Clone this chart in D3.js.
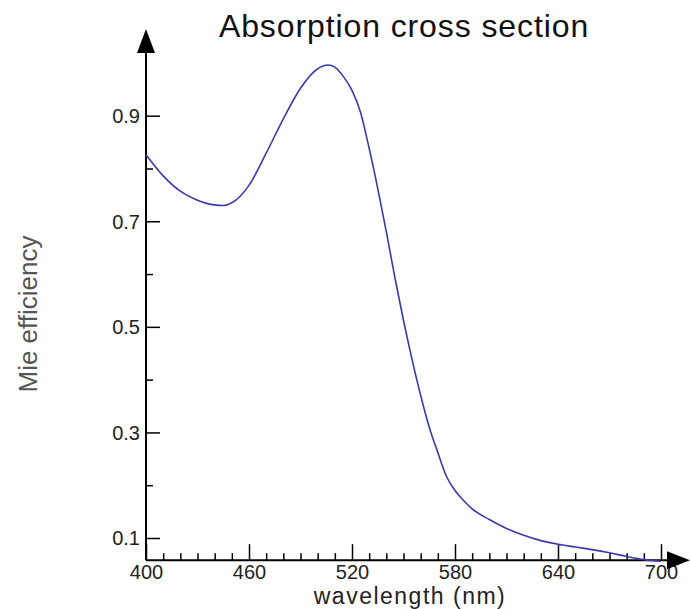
<!DOCTYPE html>
<html>
<head>
<meta charset="utf-8">
<script src="https://cdn.jsdelivr.net/npm/d3@7"></script>
<style>
  body { margin: 0; background: #fff; }
  text { font-family: "Liberation Sans", Arial, Helvetica, sans-serif; }
</style>
</head>
<body>
<div id="chart"></div>
<script>
var wavelength = [400, 410, 420, 430, 440, 445, 450, 460, 470, 480, 490, 500, 506, 510, 515, 520, 525, 530, 535, 540,
                  545, 550, 555, 560, 565, 570, 575, 580, 585, 590, 600, 610, 620, 630, 640, 650, 660, 670, 680, 690, 700];
var efficiency = [0.826, 0.786, 0.757, 0.740, 0.731, 0.730, 0.735, 0.768, 0.829, 0.894, 0.952, 0.989, 0.996, 0.992, 0.974, 0.948, 0.906, 0.838, 0.762, 0.680,
                  0.593, 0.512, 0.438, 0.370, 0.310, 0.262, 0.217, 0.190, 0.171, 0.155, 0.135, 0.118, 0.105, 0.095, 0.088, 0.083, 0.078, 0.072, 0.065, 0.059, 0.056];
var xMajor = [400, 460, 520, 580, 640, 700];
var xMinor = [410, 420, 430, 440, 450, 470, 480, 490, 500, 510, 530, 540, 550, 560, 570, 590, 600, 610, 620, 630, 650, 660, 670, 680, 690];
var yMajor = [0.1, 0.3, 0.5, 0.7, 0.9];
var yMinor = [0.2, 0.4, 0.6, 0.8];
var yOrigin = 0.058;

function renderChart() {
    var width = 690, height = 609;

    var svg = d3.select("#chart")
        .append("svg")
        .attr("width", width)
        .attr("height", height);

    var xScale = d3.scaleLinear().domain([400, 700]).range([146, 661]),
        yScale = d3.scaleLinear().domain([0.1, 0.9]).range([538, 115.7]);

    var x0 = xScale(400), y0 = yScale(yOrigin);

    svg.append("text")
        .attr("x", 404)
        .attr("y", 37)
        .attr("text-anchor", "middle")
        .style("font-size", "32px")
        .style("letter-spacing", "0.9px")
        .style("fill", "#111")
        .text("Absorption cross section");

    // y axis
    var gy = svg.append("g").attr("transform", "translate(" + x0 + ",0)");
    gy.call(d3.axisLeft(yScale).tickValues(yMajor).tickSize(-14).tickPadding(6)
        .tickFormat(d3.format(".1f")));
    gy.append("g").call(d3.axisLeft(yScale).tickValues(yMinor).tickSize(-7).tickFormat(""));
    gy.selectAll(".domain").remove();
    gy.selectAll("text").style("font-size", "20px").style("fill", "#222")
        .attr("dy", "0.34em");
    gy.selectAll("line").attr("stroke", "#000").attr("stroke-width", 1.5);

    // x axis
    var gx = svg.append("g").attr("transform", "translate(0," + y0 + ")");
    gx.call(d3.axisBottom(xScale).tickValues(xMajor).tickSize(-16).tickPadding(5));
    gx.append("g").call(d3.axisBottom(xScale).tickValues(xMinor).tickSize(-7).tickFormat(""));
    gx.selectAll(".domain").remove();
    gx.selectAll("text").style("font-size", "20px").style("fill", "#222");
    gx.selectAll("line").attr("stroke", "#000").attr("stroke-width", 1.5);

    // axis lines with arrows
    svg.append("line")
        .attr("x1", x0).attr("x2", x0)
        .attr("y1", 50).attr("y2", y0)
        .attr("stroke", "#000").attr("stroke-width", 2);
    svg.append("line")
        .attr("x1", x0).attr("x2", 670)
        .attr("y1", y0).attr("y2", y0)
        .attr("stroke", "#000").attr("stroke-width", 2);
    svg.append("path")
        .attr("d", "M" + x0 + ",29 L" + (x0 - 9) + ",53 L" + (x0 + 9) + ",53 Z")
        .attr("fill", "#000");
    svg.append("path")
        .attr("d", "M690," + y0 + " L667," + (y0 - 9) + " L667," + (y0 + 9) + " Z")
        .attr("fill", "#000");

    svg.append("text")
        .attr("transform", "translate(37,314)rotate(-90)")
        .attr("text-anchor", "middle")
        .style("font-size", "26px")
        .style("fill", "#555")
        .text("Mie efficiency");

    svg.append("text")
        .attr("x", 410)
        .attr("y", 604)
        .attr("text-anchor", "middle")
        .style("font-size", "23px")
        .style("letter-spacing", "1.5px")
        .style("fill", "#222")
        .text("wavelength (nm)");

    var points = wavelength.map(function (w, i) { return [w, efficiency[i]]; });

    var valueline = d3.line()
        .x(function (d) { return xScale(d[0]); })
        .y(function (d) { return yScale(d[1]); })
        .curve(d3.curveMonotoneX);

    svg.append("path")
        .datum(points)
        .attr("fill", "none")
        .attr("stroke", "#3a3aad")
        .attr("stroke-width", 1.6)
        .attr("d", valueline);
}

renderChart()
</script>
</body>
</html>
